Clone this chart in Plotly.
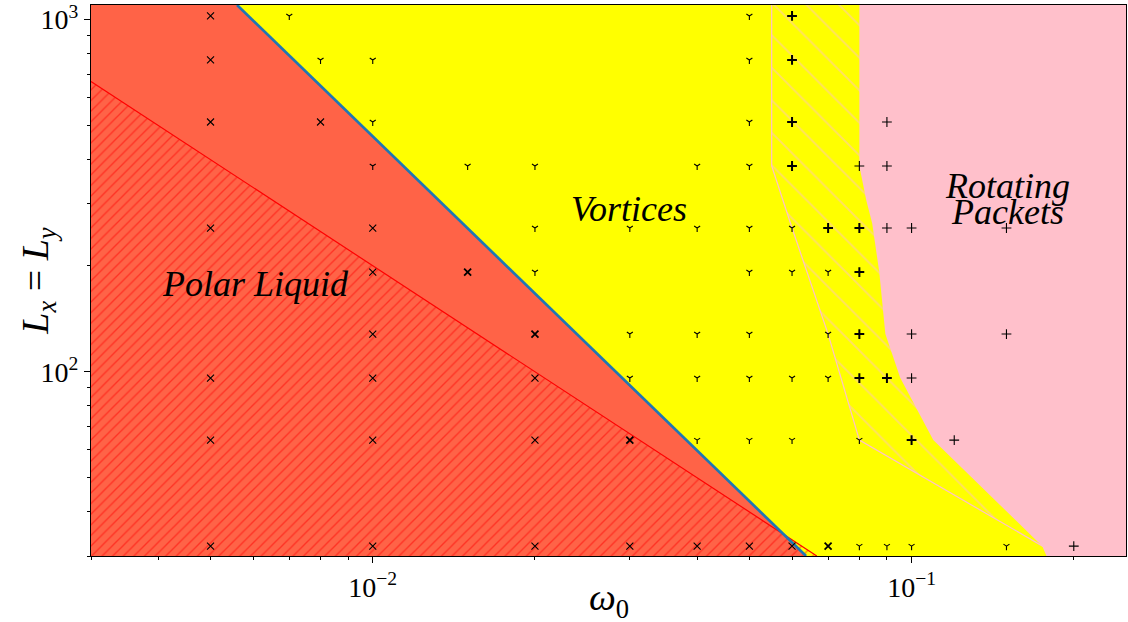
import numpy as np
import plotly.graph_objects as go

# ---------------- data ----------------
# axis extents
omega_range = [0.003, 0.25]
L_range = [30, 1100]

# phase boundaries (omega_0, L)
polar_edge_omega = [0.003, 0.0667]          # L = 2/omega
polar_edge_L = [667, 30]
vortex_edge_omega = [0.0056, 0.0637]        # blue boundary line
vortex_edge_L = [1100, 30]
coexist_omega = [0.055, 0.055, 0.06, 0.07, 0.08, 0.175, 0.2, 0.2]
coexist_L = [1100, 384, 256, 128, 64, 32, 30, 1100]
packets_edge_omega = [0.08, 0.08, 0.0824, 0.0845, 0.0871, 0.0882, 0.0894, 0.0953, 0.1025, 0.1097, 0.1748, 0.178]
packets_edge_L = [1100, 384, 307, 264, 192, 160, 128, 96, 78, 64, 32, 30]

# simulation points: polar liquid (x)
polar_omega = [0.005]*7 + [0.008] + [0.01]*6 + [0.02]*3 + [0.03, 0.04, 0.05, 0.06]
polar_L = [1024, 768, 512, 256, 96, 64, 32, 512, 256, 192, 128, 96, 64, 32, 96, 64, 32, 32, 32, 32, 32]
polar_bold_omega = [0.015, 0.02, 0.03, 0.07]
polar_bold_L = [192, 128, 64, 32]

# vortices (tri-down)
vortex_omega = ([0.007, 0.008, 0.01, 0.01, 0.01, 0.015, 0.02, 0.02, 0.02, 0.03, 0.03, 0.03]
                + [0.04]*5 + [0.05]*9 + [0.06]*4 + [0.07]*3 + [0.08, 0.08, 0.09, 0.1, 0.15])
vortex_L = ([1024, 768, 768, 512, 384, 384, 384, 256, 192, 256, 128, 96]
            + [384, 256, 128, 96, 64]
            + [1024, 768, 512, 384, 256, 192, 128, 96, 64]
            + [256, 192, 96, 64] + [192, 128, 96] + [64, 32, 32, 32, 32])

# rotating packets (+)
packets_omega = [0.08, 0.09, 0.09, 0.09, 0.1, 0.1, 0.1, 0.12, 0.15, 0.15, 0.2]
packets_L = [384, 512, 384, 256, 256, 128, 96, 64, 256, 128, 32]
packets_bold_omega = [0.06, 0.06, 0.06, 0.06, 0.07, 0.08, 0.08, 0.08, 0.08, 0.09, 0.1]
packets_bold_L = [1024, 768, 512, 384, 256, 256, 192, 128, 96, 96, 64]

x_tick_vals = [0.01, 0.1]
x_tick_text = ["10<sup>\u22122</sup>", "10<sup>\u22121</sup>"]
y_tick_vals = [100, 1000]
y_tick_text = ["10<sup>2</sup>", "10<sup>3</sup>"]

# ---------------- figure ----------------
fig = go.Figure()

# tomato region (left of the vortex boundary)
fig.add_trace(go.Scatter(
    x=[omega_range[0], omega_range[0], vortex_edge_omega[0], vortex_edge_omega[1]],
    y=[L_range[0], L_range[1], vortex_edge_L[0], vortex_edge_L[1]],
    fill="toself", fillcolor="#FF6347", mode="lines", line=dict(width=0),
    hoverinfo="skip", showlegend=False))

# hatched polar-liquid region
fig.add_trace(go.Scatter(
    x=[polar_edge_omega[0], polar_edge_omega[0], polar_edge_omega[1]],
    y=[L_range[0], polar_edge_L[0], polar_edge_L[1]],
    fill="toself", fillcolor="rgba(0,0,0,0)", mode="lines", line=dict(width=0),
    fillpattern=dict(shape="/", fgcolor="red", size=7.5, solidity=0.18, fillmode="overlay"),
    hoverinfo="skip", showlegend=False))
fig.add_trace(go.Scatter(x=polar_edge_omega, y=polar_edge_L, mode="lines",
                         line=dict(color="red", width=1.2), hoverinfo="skip", showlegend=False))

# hatched coexistence region
fig.add_trace(go.Scatter(
    x=coexist_omega, y=coexist_L,
    fill="toself", fillcolor="rgba(0,0,0,0)", mode="lines", line=dict(color="pink", width=1.2),
    fillpattern=dict(shape="\\", fgcolor="pink", size=23, solidity=0.08, fillmode="overlay"),
    hoverinfo="skip", showlegend=False))

# rotating packets region
fig.add_trace(go.Scatter(
    x=packets_edge_omega + [omega_range[1], omega_range[1]],
    y=packets_edge_L + [L_range[0], L_range[1]],
    fill="toself", fillcolor="pink", mode="lines", line=dict(width=0),
    hoverinfo="skip", showlegend=False))

# vortex boundary line
fig.add_trace(go.Scatter(x=vortex_edge_omega, y=vortex_edge_L, mode="lines",
                         line=dict(color="#1f77b4", width=2.7), hoverinfo="skip", showlegend=False))

def pts(xs, ys, sym, size, lw):
    fig.add_trace(go.Scatter(x=xs, y=ys, mode="markers",
                             marker=dict(symbol=sym, size=size, color="black",
                                         line=dict(color="black", width=lw)),
                             hoverinfo="skip", showlegend=False))

pts(polar_omega, polar_L, "x-thin", 7, 1.1)
pts(polar_bold_omega, polar_bold_L, "x-thin", 7, 1.8)
pts(vortex_omega, vortex_L, "y-down", 5, 1.1)
pts(packets_omega, packets_L, "cross-thin", 7, 1.1)
pts(packets_bold_omega, packets_bold_L, "cross-thin", 7, 2)

font_fam = "Liberation Serif, DejaVu Serif, serif"
lab = dict(showarrow=False, font=dict(family=font_fam, size=36, color="black"),
           xref="x", yref="y")
fig.add_annotation(x=np.log10(0.0299), y=np.log10(290), text="<i>Vortices</i>", **lab)
fig.add_annotation(x=np.log10(0.00605), y=np.log10(178), text="<i>Polar Liquid</i>", **lab)
fig.add_annotation(x=np.log10(0.1506), y=np.log10(338), text="<i>Rotating</i>", **lab)
fig.add_annotation(x=np.log10(0.1506), y=np.log10(285), text="<i>Packets</i>", **lab)

# axis titles
fig.add_annotation(x=-0.052, y=0.5, xref="paper", yref="paper", textangle=-90,
                   xanchor="center", yanchor="middle",
                   text="<i>L</i><sub><i>x</i></sub> = <i>L</i><sub><i>y</i></sub>",
                   showarrow=False, font=dict(family=font_fam, size=38, color="black"))
fig.add_annotation(x=0.5, y=-0.08, xref="paper", yref="paper",
                   xanchor="center", yanchor="middle",
                   text="<i>ω</i><sub>0</sub>",
                   showarrow=False, font=dict(family=font_fam, size=38, color="black"))

def minor_vals(lo, hi):
    out = []
    for e in range(-4, 5):
        for k in range(2, 10):
            v = k * 10.0**e
            if lo <= v <= hi:
                out.append(v)
    return out

axis_common = dict(type="log", showgrid=False, zeroline=False, showline=True, mirror=True,
                   linecolor="black", linewidth=1, ticks="outside", ticklen=6, tickwidth=1,
                   tickcolor="black", automargin=False, ticklabeloverflow="allow",
                   tickfont=dict(family=font_fam, size=28, color="black"))

fig.update_xaxes(range=[np.log10(omega_range[0]), np.log10(omega_range[1])],
                 tickvals=x_tick_vals, ticktext=x_tick_text,
                 minor=dict(tickvals=minor_vals(*omega_range), ticklen=3, ticks="outside",
                            tickcolor="black", tickwidth=1),
                 **axis_common)
fig.update_yaxes(range=[np.log10(L_range[0]), np.log10(L_range[1])],
                 tickvals=y_tick_vals, ticktext=y_tick_text,
                 minor=dict(tickvals=minor_vals(*L_range), ticklen=3, ticks="outside",
                            tickcolor="black", tickwidth=1),
                 **axis_common)

fig.update_layout(width=1128, height=622, margin=dict(l=91, r=2, t=5, b=66),
                  plot_bgcolor="yellow", paper_bgcolor="white")

post = ("document.body.style.margin='0';document.body.style.overflow='hidden';"
        "Plotly.relayout(document.getElementById('{plot_id}'), {width:1128, height:622});")
fig.write_html("out.html", post_script=post,
               config={"responsive": False, "displayModeBar": False})
